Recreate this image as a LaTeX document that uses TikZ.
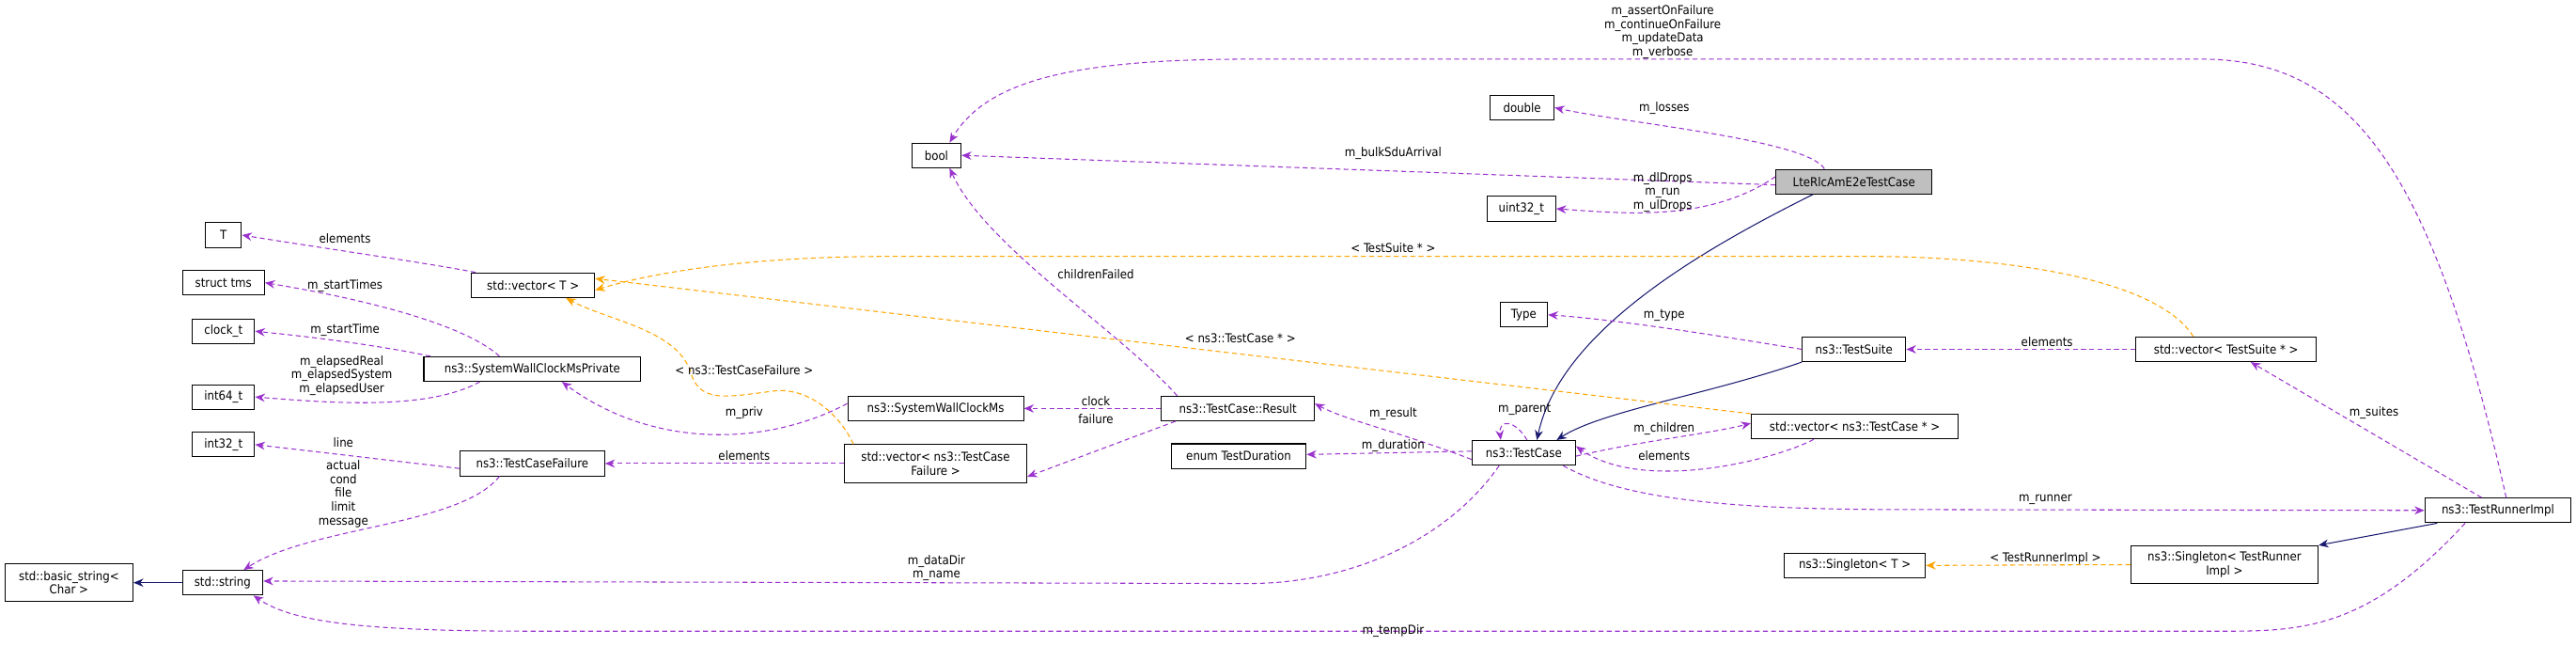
\documentclass[tikz,border=0pt]{standalone}
\usepackage{fontspec}
\setmainfont{DejaVu Sans Condensed}
\usetikzlibrary{arrows.meta}
\definecolor{mem}{HTML}{9A32CD}
\definecolor{tpl}{HTML}{FFA500}
\definecolor{inh}{HTML}{191970}
\begin{document}
\begin{tikzpicture}[x=1pt,y=-1pt,
  every node/.style={font=\fontsize{7.5}{8.4}\selectfont},
  box/.style={draw=black, line width=0.6pt, minimum height=15pt, inner sep=1pt, align=center},
  box2/.style={box, minimum height=23pt},
  lbl/.style={inner sep=0pt, align=center},
  memb/.style={draw=mem, dash pattern=on 3pt off 2pt, line width=0.6pt, -{Stealth[length=6pt,width=5pt]}},
  tmpl/.style={draw=tpl, dash pattern=on 3pt off 2pt, line width=0.6pt, -{Stealth[length=6pt,width=5pt]}},
  inhe/.style={draw=inh, line width=0.6pt, -{Stealth[length=6pt,width=5pt]}}]
\useasboundingbox (0,0) rectangle (1568,393);
% nodes
\node[box, fill=black!25, minimum width=95pt] (lte) at (1128.5,110.5) {LteRlcAmE2eTestCase};
\node[box, minimum width=39pt] (double) at (926.5,65.5) {double};
\node[box, minimum width=30pt] (bool) at (570,94.5) {bool};
\node[box, minimum width=42pt] (uint) at (926,127) {uint32\_t};
\node[box, minimum width=22pt] (T) at (136,143) {T};
\node[box, minimum width=75pt] (vecT) at (324.5,173.5) {std::vector< T >};
\node[box, minimum width=50pt] (tms) at (136,172) {struct tms};
\node[box, minimum width=38pt] (clock) at (136,201.5) {clock\_t};
\node[box, minimum width=132pt] (swcmp) at (324,224.5) {ns3::SystemWallClockMsPrivate};
\node[box, minimum width=38pt] (int64) at (136,241.5) {int64\_t};
\node[box, minimum width=38pt] (int32) at (136,270.5) {int32\_t};
\node[box, minimum width=88pt] (tcf) at (324,282) {ns3::TestCaseFailure};
\node[box2, minimum width=111pt] (vtcf) at (569.5,282) {std::vector< ns3::TestCase\\Failure >};
\node[box, minimum width=107pt] (swcms) at (569.5,248.5) {ns3::SystemWallClockMs};
\node[box, minimum width=93pt] (result) at (753.5,248.5) {ns3::TestCase::Result};
\node[box, minimum width=82pt] (enum) at (754,277.5) {enum TestDuration};
\node[box, minimum width=63pt] (tc) at (927.5,275.5) {ns3::TestCase};
\node[box, minimum width=29pt] (type) at (927.5,191.5) {Type};
\node[box, minimum width=63pt] (tsuite) at (1128.5,212.5) {ns3::TestSuite};
\node[box, minimum width=110pt] (vts) at (1355,212.5) {std::vector< TestSuite * >};
\node[box, minimum width=126pt] (vtc) at (1129,259.5) {std::vector< ns3::TestCase * >};
\node[box, minimum width=89pt] (tri) at (1520.5,310.5) {ns3::TestRunnerImpl};
\node[box2, minimum width=114pt] (stri) at (1354,343.5) {ns3::Singleton< TestRunner\\Impl >};
\node[box, minimum width=86pt] (sT) at (1129,344) {ns3::Singleton< T >};
\node[box, minimum width=49pt] (str) at (135.5,354.5) {std::string};
\node[box2, minimum width=78pt] (bstr) at (42,354.5) {std::basic\_string<\\Char >};
% edges
\draw[memb] ([yshift=-2pt]lte.west) -- (bool.east);
\draw[memb] ([xshift=-18pt]lte.north) .. controls (1100,85) and (990,75) .. (double.east);
\draw[memb] ([yshift=3pt]lte.west) .. controls (1040,135) and (990,130) .. (uint.east);
\draw[memb] ([xshift=5pt]tri.north) .. controls (1480,100) and (1430,36) .. (1340,36) -- (760,36) .. controls (650,36) and (600,50) .. ([xshift=8pt]bool.north);
\draw[inhe] ([xshift=-25pt]lte.south) .. controls (1040,150) and (950,200) .. ([xshift=8pt]tc.north);
\draw[inhe] (tsuite.south west) .. controls (1040,240) and (975,250) .. ([xshift=20pt]tc.north);
\draw[inhe] ([xshift=-37pt]tri.south) -- (stri.north east);
\draw[inhe] (str.west) -- (bstr.east);
\draw[tmpl] ([xshift=-20pt]vts.north) .. controls (1310,165) and (1200,156) .. (1140,156) -- (540,156) .. controls (460,156) and (400,165) .. ([yshift=-3pt]vecT.east);
\draw[tmpl] (vtc.north west) -- ([yshift=4pt]vecT.east);
\draw[tmpl] ([xshift=-50pt]vtcf.north) .. controls (510,250) and (490,235) .. (470,238) .. controls (440,242) and (425,245) .. (420,225) .. controls (410,200) and (370,195) .. ([xshift=20pt]vecT.south);
\draw[memb] ([xshift=-35pt]vecT.north) .. controls (260,160) and (190,150) .. (T.east);
\draw[memb] ([xshift=-20pt]swcmp.north) .. controls (280,195) and (210,180) .. (tms.east);
\draw[memb] ([xshift=-62pt]swcmp.north) .. controls (230,210) and (190,205) .. (clock.east);
\draw[memb] ([xshift=-32pt]swcmp.south) .. controls (260,250) and (200,245) .. (int64.east);
\draw[memb] ([yshift=3pt]swcms.west) .. controls (470,270) and (400,275) .. ([xshift=18pt]swcmp.south);
\draw[memb] (result.west) -- (swcms.east);
\draw[memb] ([xshift=-38pt]result.south) -- ([yshift=-8pt]vtcf.east);
\draw[memb] ([xshift=-37pt]result.north) .. controls (680,200) and (600,150) .. ([xshift=8pt]bool.south);
\draw[memb] (vtcf.west) -- (tcf.east);
\draw[memb] ([yshift=-3pt]tcf.west) -- (int32.east);
\draw[memb] ([xshift=-20pt]tcf.south) .. controls (280,320) and (190,320) .. ([xshift=-12pt]str.north east);
\draw[memb] ([yshift=-4pt]tc.west) .. controls (850,262) and (820,256) .. ([yshift=3pt]result.east);
\draw[memb] ([yshift=1pt]tc.west) -- ([yshift=1pt]enum.east);
\draw[memb] ([xshift=2pt]tc.north) .. controls (922,255) and (912,255) .. ([xshift=-14pt]tc.north);
\draw[memb] (tsuite.west) .. controls (1050,205) and (990,195) .. (type.east);
\draw[memb] (vts.west) -- (tsuite.east);
\draw[memb] ([yshift=-2pt]tc.east) .. controls (1000,268) and (1040,264) .. ([yshift=2pt]vtc.west);
\draw[memb] ([xshift=-25pt]vtc.south) .. controls (1080,280) and (1000,300) .. ([yshift=4pt]tc.east);
\draw[memb] ([xshift=24pt]tc.south) .. controls (990,305) and (1060,310) .. (1160,310) -- (tri.west);
\draw[memb] ([xshift=-10pt]tri.north) -- ([xshift=15pt]vts.south);
\draw[tmpl] (stri.west) -- (sT.east);
\draw[memb] ([xshift=-15pt]tc.south) .. controls (880,330) and (820,355) .. (760,355) -- ([yshift=1pt]str.east);
\draw[memb] ([xshift=-20pt]tri.south) .. controls (1440,384) and (1400,384) .. (1350,384) -- (330,384) .. controls (230,384) and (180,380) .. ([xshift=-6pt]str.south east);
% labels
\node[lbl] at (1012,19.5) {m\_assertOnFailure\\m\_continueOnFailure\\m\_updateData\\m\_verbose};
\node[lbl] at (1013,66) {m\_losses};
\node[lbl] at (848,93) {m\_bulkSduArrival};
\node[lbl] at (1012,117) {m\_dlDrops\\m\_run\\m\_ulDrops};
\node[lbl] at (848,151) {< TestSuite * >};
\node[lbl] at (755,206) {< ns3::TestCase * >};
\node[lbl] at (453,225) {< ns3::TestCaseFailure >};
\node[lbl] at (210,145) {elements};
\node[lbl] at (210,174) {m\_startTimes};
\node[lbl] at (210,201) {m\_startTime};
\node[lbl] at (208,228.5) {m\_elapsedReal\\m\_elapsedSystem\\m\_elapsedUser};
\node[lbl] at (667,167) {childrenFailed};
\node[lbl] at (667,244) {clock};
\node[lbl] at (667,255) {failure};
\node[lbl] at (453,251) {m\_priv};
\node[lbl] at (1013,192) {m\_type};
\node[lbl] at (1246,208) {elements};
\node[lbl] at (1445,251) {m\_suites};
\node[lbl] at (928,249) {m\_parent};
\node[lbl] at (848,252) {m\_result};
\node[lbl] at (1013,261) {m\_children};
\node[lbl] at (209,269) {line};
\node[lbl] at (453,277) {elements};
\node[lbl] at (209,300.5) {actual\\cond\\file\\limit\\message};
\node[lbl] at (848,271) {m\_duration};
\node[lbl] at (1013,277) {elements};
\node[lbl] at (1245,304) {m\_runner};
\node[lbl] at (1245,340) {< TestRunnerImpl >};
\node[lbl] at (570,345.5) {m\_dataDir\\m\_name};
\node[lbl] at (848,384) {m\_tempDir};
\end{tikzpicture}
\end{document}
